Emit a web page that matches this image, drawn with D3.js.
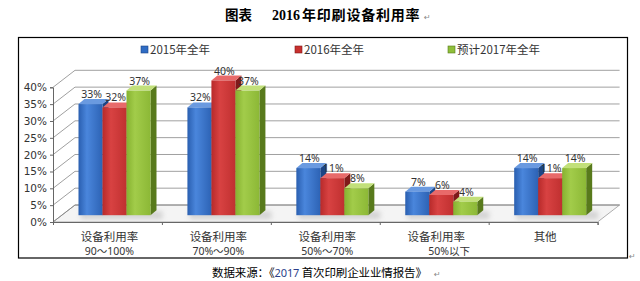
<!DOCTYPE html>
<html><head><meta charset="utf-8">
<script src="https://cdn.jsdelivr.net/npm/d3@7"></script>
<style>
html,body{margin:0;padding:0;background:#fff;}
svg{display:block;}
</style></head>
<body>
<svg id="c" width="640" height="281"></svg>
<script>
const categories = [["设备利用率","90～100%"],["设备利用率","70%～90%"],["设备利用率","50%～70%"],["设备利用率","50%以下"],["其他"]];
const seriesNames = ["2015年全年","2016年全年","预计2017年全年"];
const v2015 = [33,32,14,7,14];
const v2016 = [32,40,11,6,11];
const v2017 = [37,37,8,4,14];
const yTicks = [0,5,10,15,20,25,30,35,40];
const colors = [
  {front:["#2a5fb0","#4a86dc","#2d63b5"], top:"#6a9ae0", side:"#1c4585", leg:"#2f6cc4"},
  {front:["#b82a2a","#d84242","#c03030"], top:"#e86a6a", side:"#7f1a1a", leg:"#c8302e"},
  {front:["#86b230","#a2cc4a","#8cb836"], top:"#c2e07a", side:"#587a1c", leg:"#8fbf3a"}
];
const series = [v2015, v2016, v2017];

const svg = d3.select("#c");
const defs = svg.append("defs");
colors.forEach((c,i)=>{
  const g = defs.append("linearGradient").attr("id","gf"+i).attr("x1","0").attr("x2","1").attr("y1","0").attr("y2","0");
  g.append("stop").attr("offset","0%").attr("stop-color",c.front[0]);
  g.append("stop").attr("offset","35%").attr("stop-color",c.front[1]);
  g.append("stop").attr("offset","100%").attr("stop-color",c.front[2]);
});
const blur = defs.append("filter").attr("id","blur").attr("x","-50%").attr("y","-50%").attr("width","200%").attr("height","200%");
blur.append("feGaussianBlur").attr("stdDeviation","2.5");

// frame
svg.append("rect").attr("x",18.5).attr("y",37.5).attr("width",609).attr("height",220.5)
  .attr("fill","#fff").attr("stroke","#000").attr("stroke-width",1.2);

// title
const title = svg.append("text").attr("y",20).attr("font-weight","bold").attr("fill","#000");
title.append("tspan").attr("x",225).attr("font-family","Noto Sans CJK SC").attr("font-size",13.5).text("图表");
title.append("tspan").attr("x",272).attr("font-family","Liberation Serif").attr("font-size",14).text("2016");
title.append("tspan").attr("x",302).attr("font-family","Noto Sans CJK SC").attr("font-size",14).attr("letter-spacing",0.8).text("年印刷设备利用率");
svg.append("text").attr("x",424).attr("y",20).attr("font-family","DejaVu Sans").attr("font-size",8).attr("fill","#888").text("↵");

// scales (front plane)
const x0 = d3.scaleBand().domain(d3.range(categories.length)).range([53,597.6]);
const y = d3.scaleLinear().domain([0,40]).range([222,87.3]);
const depth = {dx:22, dy:-17};
const barOff = {dx:8.8, dy:-6.8};
const barD = {dx:6, dy:-5};
const groupW = 72;
const x1 = d3.scaleBand().domain(d3.range(series.length)).range([0,groupW]);
const groupOffset = 16.7;

// floor
const fl = svg.append("g");
fl.append("path").attr("d", d3.line()([[x0.range()[0],y(0)],[x0.range()[1],y(0)],[x0.range()[1]+depth.dx,y(0)+depth.dy],[x0.range()[0]+depth.dx,y(0)+depth.dy]]) + "Z")
  .attr("fill","#f4f4f4").attr("stroke","#9a9a9a").attr("stroke-width",0.8);

// gridlines
const grid = svg.append("g").attr("fill","none").attr("stroke","#9a9a9a").attr("stroke-width",1);
yTicks.forEach(t=>{
  const yy = y(t);
  grid.append("path").attr("d", d3.line()([[x0.range()[0],yy],[x0.range()[0]+depth.dx,yy+depth.dy],[x0.range()[1]+depth.dx,yy+depth.dy]]))
    .attr("stroke", t===0 ? "#8a8a8a" : "#a0a0a0");
});

// y axis
const yAxisG = svg.append("g").attr("transform",`translate(${x0.range()[0]},0)`)
  .call(d3.axisLeft(y).tickValues(yTicks).tickSize(3).tickFormat(d=>d+"%"));
yAxisG.select(".domain").attr("stroke","#666");
yAxisG.selectAll(".tick line").attr("stroke","#666");
yAxisG.selectAll("text").attr("font-family","DejaVu Sans").attr("font-size",10.5).attr("fill","#333").attr("x",-6);

// x axis
const xAxisG = svg.append("g").attr("transform",`translate(0,${y(0)})`)
  .call(d3.axisBottom(d3.scaleLinear().domain([0,categories.length]).range(x0.range())).tickValues(d3.range(categories.length+1)).tickSize(3).tickFormat(""));
xAxisG.select(".domain").attr("stroke","#666");
xAxisG.selectAll(".tick line").attr("stroke","#666");

// category labels
const catG = svg.append("g").attr("fill","#333").attr("text-anchor","middle");
categories.forEach((lines,i)=>{
  const cx = x0(i) + x0.bandwidth()/2 + 2;
  lines.forEach((ln,j)=>{
    catG.append("text").attr("x", cx + (i===3 && j===1 ? 13 : 0)).attr("y", 241 + j*14)
      .attr("font-family", j===1 ? "Noto Sans, Noto Sans CJK SC" : "Noto Sans CJK SC")
      .attr("font-size", j===1?10.5:11.5).text(ln);
  });
});

// bars
const barsG = svg.append("g");
const labelsG = svg.append("g").attr("font-family","Noto Sans").attr("font-size",10.5).attr("fill","#333").attr("text-anchor","middle");
categories.forEach((c,i)=>{
  const gx = x0(i) + groupOffset + barOff.dx;
  const gy = y(0) + barOff.dy;
  barsG.append("rect").attr("x",gx+2).attr("y",gy-4).attr("width",groupW+10).attr("height",8)
    .attr("fill","#bdbdbd").attr("opacity",0.6).attr("filter","url(#blur)");
  series.forEach((s,k)=>{
    const v = s[i];
    const bx = x0(i) + groupOffset + x1(k) + barOff.dx;
    const bw = x1.bandwidth();
    const by0 = y(0) + barOff.dy;
    const by1 = y(v) + barOff.dy;
    const g = barsG.append("g");
    g.append("path").attr("d", d3.line()([[bx+bw,by1],[bx+bw+barD.dx,by1+barD.dy],[bx+bw+barD.dx,by0+barD.dy],[bx+bw,by0]])+"Z")
      .attr("fill",colors[k].side);
    g.append("path").attr("d", d3.line()([[bx,by1],[bx+barD.dx,by1+barD.dy],[bx+bw+barD.dx,by1+barD.dy],[bx+bw,by1]])+"Z")
      .attr("fill",colors[k].top);
    g.append("rect").attr("x",bx).attr("y",by1).attr("width",bw).attr("height",by0-by1).attr("fill",`url(#gf${k})`);
    labelsG.append("text").attr("x",bx+bw/2+1).attr("y",by1-6).text(v+"%");
  });
});
labelsG.raise();

// legend
const legG = svg.append("g");
const legX = [141,295,448];
seriesNames.forEach((n,k)=>{
  legG.append("rect").attr("x",legX[k]).attr("y",46).attr("width",7).attr("height",7)
    .attr("fill",colors[k].leg).attr("stroke",colors[k].side).attr("stroke-width",0.6);
  legG.append("text").attr("x",legX[k]+9).attr("y",54).attr("font-family","Noto Sans CJK SC").attr("font-size",11.5).attr("fill","#333").text(n);
});

// return marks
svg.append("text").attr("x",629).attr("y",259).attr("font-family","DejaVu Sans").attr("font-size",8).attr("fill","#888").text("↵");

// source
const src = svg.append("text").attr("x",212).attr("y",277).attr("font-family","Noto Sans CJK SC").attr("font-size",11.5).attr("fill","#000")
  .attr("textLength",215).attr("lengthAdjust","spacing");
src.append("tspan").text("数据来源：《");
src.append("tspan").attr("font-family","Noto Sans").attr("font-size",11).attr("fill","#2b3f8a").text("2017");
src.append("tspan").text(" 首次印刷企业业情报告》");
svg.append("text").attr("x",434).attr("y",277).attr("font-family","DejaVu Sans").attr("font-size",8).attr("fill","#888").text("↵");
</script>
</body></html>
